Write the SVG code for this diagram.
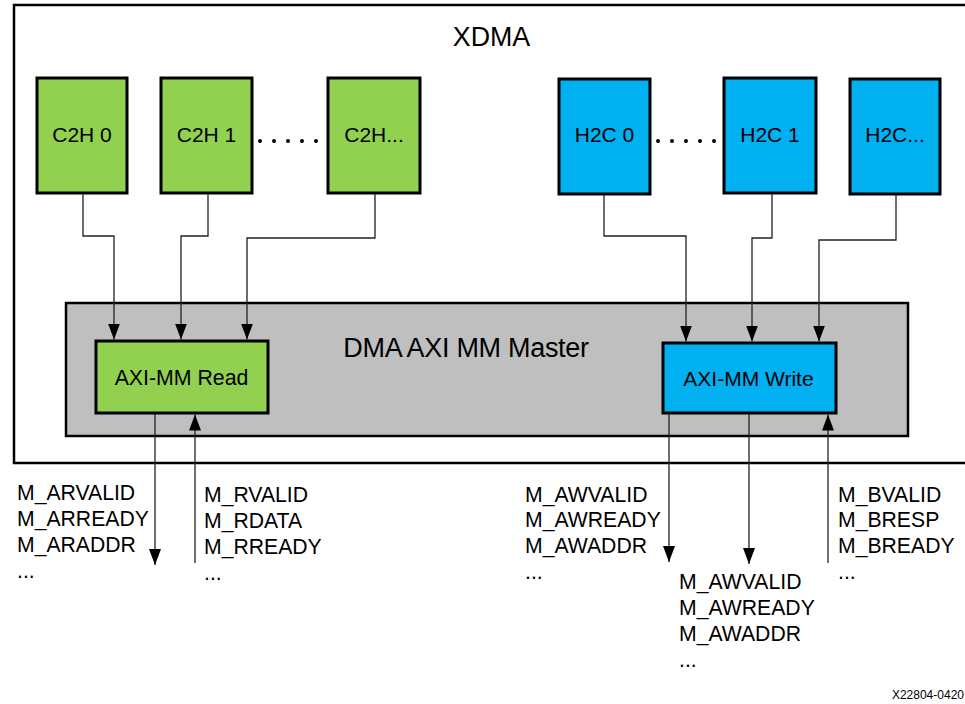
<svg xmlns="http://www.w3.org/2000/svg" width="965" height="704" viewBox="0 0 965 704">
<style>
.t{font-family:"Liberation Sans",Arial,sans-serif;fill:#000}
.c2h{fill:#92D050;stroke:#000;stroke-width:3}
.h2c{fill:#00B0F0;stroke:#000;stroke-width:3}
.lbl{font-size:21px;text-anchor:middle}
.sig{font-size:21.2px}
.conn{fill:none;stroke:#222;stroke-width:1.3}
</style>
<defs>
<marker id="ah" viewBox="0 0 16 12" refX="16" refY="6" markerWidth="16" markerHeight="12" markerUnits="userSpaceOnUse" orient="auto">
<path d="M0,0 L16,6 L0,12 z" fill="#000"/>
</marker>
</defs>
<rect width="965" height="704" fill="#fff"/>
<g id="xdma">
<path d="M975,5 H14 V463 H975" fill="none" stroke="#000" stroke-width="2.5"/>
<text class="t" x="491.5" y="46" font-size="26.8" text-anchor="middle">XDMA</text>
</g>
<g id="dma-master">
<rect x="66" y="303" width="842" height="133" fill="#BFBFBF" stroke="#000" stroke-width="2.5"/>
<text class="t" x="466" y="357" font-size="27" text-anchor="middle" letter-spacing="-0.3">DMA AXI MM Master</text>
</g>
<g id="c2h0"><rect class="c2h" x="37" y="78" width="90" height="115"/><text class="t lbl" x="82" y="142">C2H 0</text></g>
<g id="c2h1"><rect class="c2h" x="161" y="78" width="91" height="115"/><text class="t lbl" x="206.5" y="142">C2H 1</text></g>
<g id="c2hn"><rect class="c2h" x="328" y="78" width="92" height="115"/><text class="t lbl" x="374" y="142">C2H...</text></g>
<g id="h2c0"><rect class="h2c" x="559" y="79" width="91" height="115"/><text class="t lbl" x="604.5" y="142">H2C 0</text></g>
<g id="h2c1"><rect class="h2c" x="724" y="78" width="92" height="115"/><text class="t lbl" x="770" y="142">H2C 1</text></g>
<g id="h2cn"><rect class="h2c" x="850" y="79" width="90" height="115"/><text class="t lbl" x="895" y="142">H2C...</text></g>
<g id="dots">
<g fill="#000">
<circle cx="260" cy="141" r="2"/><circle cx="274" cy="141" r="2"/><circle cx="288" cy="141" r="2"/><circle cx="302" cy="141" r="2"/><circle cx="316" cy="141" r="2"/>
<circle cx="658" cy="141" r="2"/><circle cx="672" cy="141" r="2"/><circle cx="686" cy="141" r="2"/><circle cx="700" cy="141" r="2"/><circle cx="714" cy="141" r="2"/>
</g>
</g>
<g id="axi-read"><rect class="c2h" x="96" y="341" width="172" height="72"/><text class="t" x="181.5" y="385" font-size="21.3" text-anchor="middle">AXI-MM Read</text></g>
<g id="axi-write"><rect class="h2c" x="663" y="343" width="173" height="70"/><text class="t" x="748.5" y="386" font-size="21" text-anchor="middle">AXI-MM Write</text></g>
<g id="connectors">
<path class="conn" d="M83,194 V236 H114 V339.5" marker-end="url(#ah)"/>
<path class="conn" d="M208,194 V236 H181 V339.5" marker-end="url(#ah)"/>
<path class="conn" d="M375,194 V238 H247 V339.5" marker-end="url(#ah)"/>
<path class="conn" d="M604,195 V236 H686 V341.5" marker-end="url(#ah)"/>
<path class="conn" d="M772,194 V238 H752 V341.5" marker-end="url(#ah)"/>
<path class="conn" d="M896,195 V240 H819 V341.5" marker-end="url(#ah)"/>
<path class="conn" d="M155,414 V565" marker-end="url(#ah)"/>
<path class="conn" d="M195,563 V414.5" marker-end="url(#ah)"/>
<path class="conn" d="M669,414 V562" marker-end="url(#ah)"/>
<path class="conn" d="M749,414 V564" marker-end="url(#ah)"/>
<path class="conn" d="M828,563 V414.5" marker-end="url(#ah)"/>
</g>
<g id="signals" class="t sig">
<text x="17" y="500">M_ARVALID</text><text x="17" y="526">M_ARREADY</text><text x="17" y="552">M_ARADDR</text><text x="17" y="578">...</text>
<text x="204" y="502">M_RVALID</text><text x="204" y="528">M_RDATA</text><text x="204" y="554">M_RREADY</text><text x="204" y="580">...</text>
<text x="525" y="502">M_AWVALID</text><text x="525" y="527">M_AWREADY</text><text x="525" y="553">M_AWADDR</text><text x="525" y="579">...</text>
<text x="679" y="589">M_AWVALID</text><text x="679" y="615">M_AWREADY</text><text x="679" y="641">M_AWADDR</text><text x="679" y="667">...</text>
<text x="838" y="502">M_BVALID</text><text x="838" y="527">M_BRESP</text><text x="838" y="553">M_BREADY</text><text x="838" y="579">...</text>
</g>
<text class="t" x="964" y="699" font-size="12" text-anchor="end">X22804-0420</text>
</svg>
